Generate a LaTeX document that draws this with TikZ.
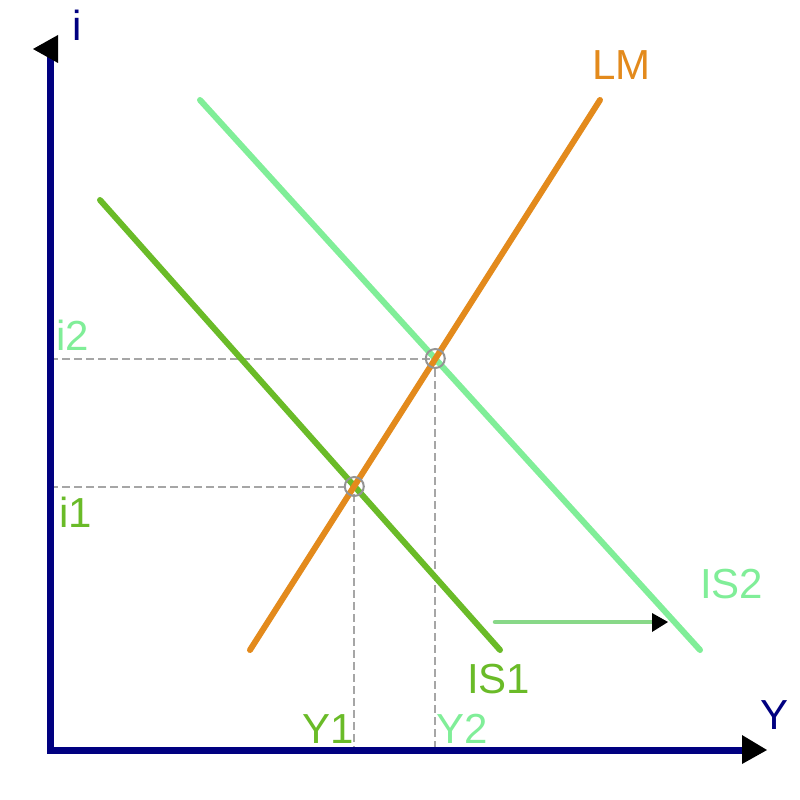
\documentclass[tikz,border=0pt]{standalone}
\usepackage{fontspec}
\setmainfont{Liberation Sans}
\begin{document}
\begin{tikzpicture}[x=1pt,y=-1pt,
  curve/.style={line width=6pt,line cap=round},
  guide/.style={draw=black!35,line width=2pt,dash pattern=on 8pt off 4pt},
  ring/.style={draw=black!42,line width=2pt,circle,minimum size=19pt,inner sep=0pt},
  lbl/.style={inner sep=0pt,anchor=base west,font=\fontsize{42}{42}\selectfont},
  tip/.style={fill=black}]
\definecolor{axisblue}{HTML}{000080}
\definecolor{lmorange}{HTML}{E38A1C}
\definecolor{isone}{HTML}{6ABB28}
\definecolor{istwo}{HTML}{80EE98}
\definecolor{shiftgreen}{HTML}{88D888}
\useasboundingbox (0,0) rectangle (800,800);
\fill[white] (0,0) rectangle (800,800);
% coordinates
\coordinate (top) at (50,55);
\coordinate (orig) at (50,750);
\coordinate (right) at (745,750);
\coordinate (lmA) at (250,650);
\coordinate (lmB) at (600,100);
\coordinate (isoA) at (100,200);
\coordinate (isoB) at (500,650);
\coordinate (istA) at (200,100);
\coordinate (istB) at (700,650);
\coordinate (E1) at (354.3,486.5);
\coordinate (E2) at (435.3,358.5);
\coordinate (iA) at (50,486.5);
\coordinate (iB) at (50,358.5);
\coordinate (yA) at (354.3,750);
\coordinate (yB) at (435.3,750);
\coordinate (sA) at (495,622);
\coordinate (sB) at (655,622);
% guides
\draw[guide] (iB) -- (E2) -- (yB);
\draw[guide] (iA) -- (E1) -- (yA);
% curves
\draw[curve,istwo] (istA) -- (istB);
\draw[curve,isone] (isoA) -- (isoB);
\draw[curve,lmorange] (lmA) -- (lmB);
% rings
\node[ring] (r1) at (E1) {};
\node[ring] (r2) at (E2) {};
% shift arrow
\draw[line width=4.5pt,shiftgreen,line cap=round] (sA) -- (sB);
\fill[tip] (668,622) -- (652,613) -- (652,632) -- cycle;
% axes
\draw[axisblue,line width=7pt,line join=miter] (top) -- (orig) -- (right);
\fill[tip] (33,49) -- (58,35) -- (58,63) -- cycle;
\fill[tip] (767,750) -- (742,735) -- (742,764) -- cycle;
% labels
\node[lbl,text=axisblue] (li) at (72,41) {i};
\node[lbl,text=axisblue] (lY) at (760,729) {Y};
\node[lbl,text=lmorange] (lLM) at (592,80) {LM};
\node[lbl,text=isone] (lIS1) at (467,693) {IS1};
\node[lbl,text=istwo] (lIS2) at (700,598) {IS2};
\node[lbl,text=istwo] (li2) at (56,350) {i2};
\node[lbl,text=isone] (li1) at (59,527) {i1};
\node[lbl,text=isone] (lY1) at (302,743) {Y1};
\node[lbl,text=istwo] (lY2) at (436,743) {Y2};
\end{tikzpicture}
\end{document}
